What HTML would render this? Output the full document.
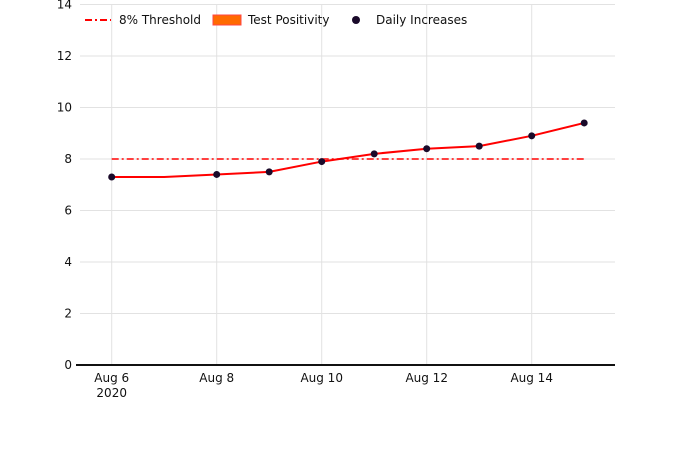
<!DOCTYPE html>
<html><head><meta charset="utf-8"><style>
body{margin:0;background:#fff;font-family:"Liberation Sans","DejaVu Sans",sans-serif;}
svg text{font-family:"DejaVu Sans","Liberation Sans",sans-serif;font-size:12px;fill:#111;}
</style></head><body>
<svg id="chart" width="696" height="445" xmlns="http://www.w3.org/2000/svg">
<g id="grid"></g><g id="axes"></g><g id="marks"></g>
<g>
  <line x1="85" y1="20" x2="111" y2="20" stroke="#f00" stroke-width="2" stroke-dasharray="7,3,2,3"/>
  <text x="119" y="24">8% Threshold</text>
  <rect x="213" y="15" width="28" height="10" fill="#ff6a00" stroke="#f44"/>
  <text x="248" y="24">Test Positivity</text>
  <circle cx="356" cy="20" r="4" fill="#1a0a2a"/>
  <text x="376" y="24">Daily Increases</text>
</g>
</svg>
<script>
const days=[6,7,8,9,10,11,12,13,14,15];
const positivity=[7.3,7.3,7.4,7.5,7.9,8.2,8.4,8.5,8.9,9.4];
const dotDays=[6,8,9,10,11,12,13,14,15];
const dotValues=[7.3,7.4,7.5,7.9,8.2,8.4,8.5,8.9,9.4];
const threshold=8;
const yTicks=[0,2,4,6,8,10,12,14];
const xTicks=[6,8,10,12,14];
const NS="http://www.w3.org/2000/svg";
const X=d=>111.7+(d-6)*52.5;
const Y=v=>365-v*25.75;
function mk(t,a,p){const e=document.createElementNS(NS,t);for(const k in a)e.setAttribute(k,a[k]);p.appendChild(e);return e;}
const grid=document.getElementById('grid'),axes=document.getElementById('axes'),marks=document.getElementById('marks');
yTicks.forEach(v=>{
 if(v>0){const l=mk('line',{x1:80,x2:615,y1:Y(v),y2:Y(v),stroke:'#e2e2e2'},grid);
 
 }
 const t=mk('text',{x:72,y:Y(v)+4,'text-anchor':'end'},axes);t.textContent=v;
 
 
});
xTicks.forEach(d=>{
 const l=mk('line',{x1:X(d),x2:X(d),y1:5,y2:365,stroke:'#e2e2e2'},grid);
 
 
 const t=mk('text',{x:X(d),y:382,'text-anchor':'middle'},axes);t.textContent='Aug '+d;
 
 
});
const yr=mk('text',{x:X(6),y:397,'text-anchor':'middle'},axes);yr.textContent='2020';


const ax=mk('line',{x1:76,x2:615,y1:365,y2:365,stroke:'#111','stroke-width':2},axes);


const th=mk('line',{x1:X(days[0]),x2:X(days[days.length-1]),y1:Y(threshold),y2:Y(threshold),stroke:'#f00','stroke-width':1.5,'stroke-dasharray':'7,3,2,3'},marks);


const pl=mk('polyline',{points:days.map((d,i)=>X(d)+','+Y(positivity[i])).join(' '),fill:'none',stroke:'#f00','stroke-width':2},marks);


dotDays.forEach((d,i)=>{
 const c=mk('circle',{cx:X(d),cy:Y(dotValues[i]),r:3.5,fill:'#1a0a2a'},marks);
 
 
});
</script>
</body></html>
